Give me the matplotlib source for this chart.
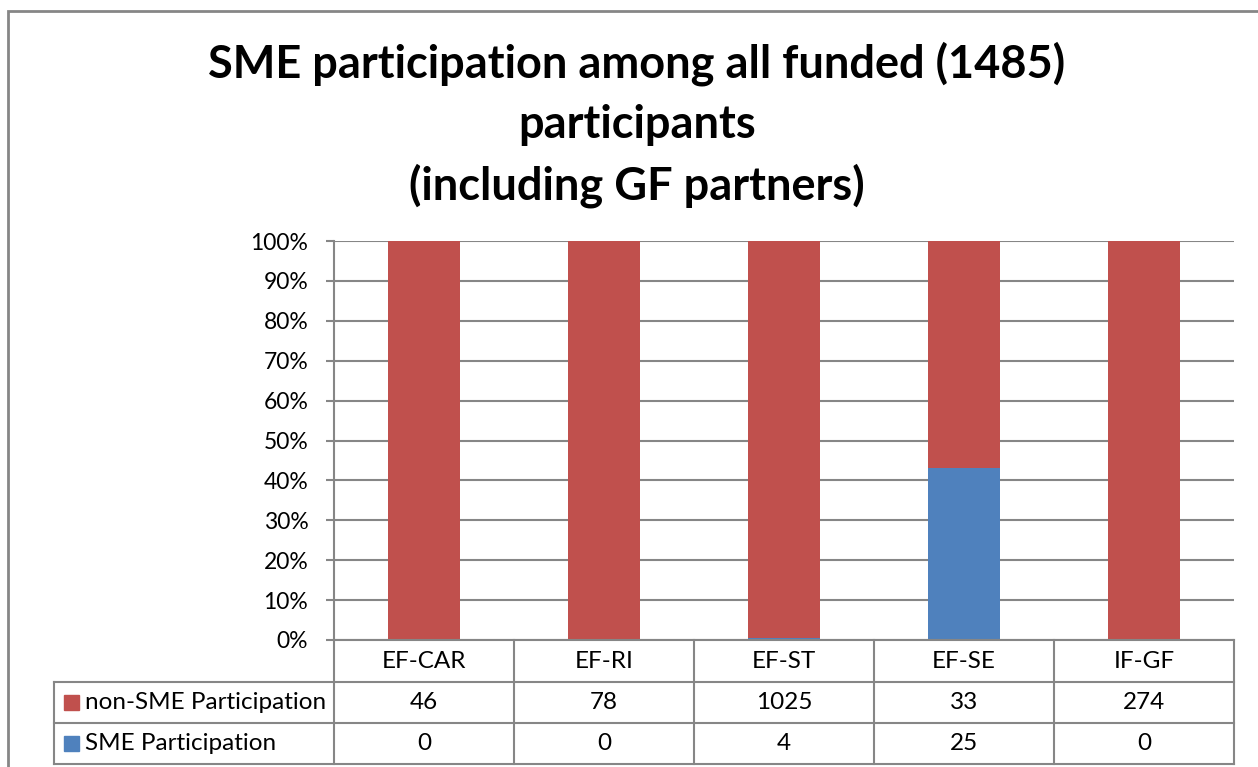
import numpy as np
import matplotlib
matplotlib.use('Agg')
import matplotlib.pyplot as plt
import matplotlib.transforms as mtransforms
from matplotlib.patches import Rectangle

categories = ['EF-CAR', 'EF-RI', 'EF-ST', 'EF-SE', 'IF-GF']
non_sme = [46, 78, 1025, 33, 274]
sme = [0, 0, 4, 25, 0]
series_names = ['non-SME Participation', 'SME Participation']
title_lines = ['SME participation among all funded (1485)', 'participants', '(including GF partners)']

RED = '#C0504D'
BLUE = '#4F81BD'
GREY = '#868686'
FONT = 'Lato'

plt.rcParams['font.family'] = [FONT, 'DejaVu Sans']

fig = plt.figure(figsize=(12.58, 7.67), dpi=100)
W, H = 1258, 767

# axes placed by pixel box of the reference plot area
left, right, top, bottom = 334, 1234, 241, 640
ax = fig.add_axes([left / W, 1 - bottom / H, (right - left) / W, (bottom - top) / H])

x = np.arange(len(categories))
total = np.array(non_sme) + np.array(sme)
sme_pct = np.array(sme) / total
non_pct = np.array(non_sme) / total

ax.bar(x, sme_pct, width=0.4, color=BLUE, zorder=3)
ax.bar(x, non_pct, width=0.4, bottom=sme_pct, color=RED, zorder=3)

ax.set_xlim(-0.5, len(categories) - 0.5)
ax.set_ylim(0, 1)
ticks = np.linspace(0, 1, 11)
ax.set_yticks(ticks)
ax.set_yticklabels([f'{int(round(v * 100))}%' for v in ticks], fontsize=16.5)
ax.set_xticks([])
ax.yaxis.grid(True, color=GREY, linewidth=1.5, zorder=0)
for s in ['top', 'right', 'bottom']:
    ax.spines[s].set_visible(False)
ax.spines['left'].set_color(GREY)
ax.spines['left'].set_linewidth(1.5)
ax.tick_params(axis='y', length=5.5, width=1.5, color=GREY, pad=13)

# title, one line at a time (baselines from the reference)
for line, base in zip(title_lines, [77, 138, 199]):
    fig.text(637 / W, 1 - base / H, line, fontsize=32.5, fontweight='bold',
             ha='center', va='baseline')

# data table under the plot
trans = mtransforms.blended_transform_factory(ax.transData, ax.transAxes)
ph = bottom - top
row_y = [0, -42 / ph, -83 / ph, -124 / ph]
col_px = (right - left) / len(categories)
label_x = -0.5 + (54 - left) / col_px
x_edges = np.arange(len(categories) + 1) - 0.5
line_kw = dict(color=GREY, linewidth=1.5, clip_on=False, transform=trans, zorder=4)

# horizontal lines
ax.plot([x_edges[0], x_edges[-1]], [row_y[0]] * 2, **line_kw)
for yy in row_y[1:]:
    ax.plot([label_x, x_edges[-1]], [yy] * 2, **line_kw)
# vertical lines
for xe in x_edges:
    ax.plot([xe, xe], [row_y[0], row_y[-1]], **line_kw)
ax.plot([label_x, label_x], [row_y[1], row_y[-1]], **line_kw)

cell_fs = 17.5
for i, c in enumerate(categories):
    ax.text(i, (row_y[0] + row_y[1]) / 2, c, transform=trans, ha='center', va='center', fontsize=cell_fs)
    ax.text(i, (row_y[1] + row_y[2]) / 2, str(non_sme[i]), transform=trans, ha='center', va='center', fontsize=cell_fs)
    ax.text(i, (row_y[2] + row_y[3]) / 2, str(sme[i]), transform=trans, ha='center', va='center', fontsize=cell_fs)

for r, (name, col) in enumerate(zip(series_names, [RED, BLUE])):
    yc = (row_y[r + 1] + row_y[r + 2]) / 2
    sq_w = 15 / col_px
    sq_h = 15 / ph
    ax.add_patch(Rectangle((label_x + 10 / col_px, yc - sq_h / 2), sq_w, sq_h, transform=trans,
                           color=col, clip_on=False, zorder=4))
    ax.text(label_x + 31 / col_px, yc, name, transform=trans, ha='left', va='center', fontsize=cell_fs)

# outer chart border
fig.add_artist(Rectangle((8 / W, -0.05), 1.1, 1 - 11 / H + 0.05, transform=fig.transFigure,
                         fill=False, edgecolor=GREY, linewidth=2))

fig.savefig('out.png', dpi=100)
